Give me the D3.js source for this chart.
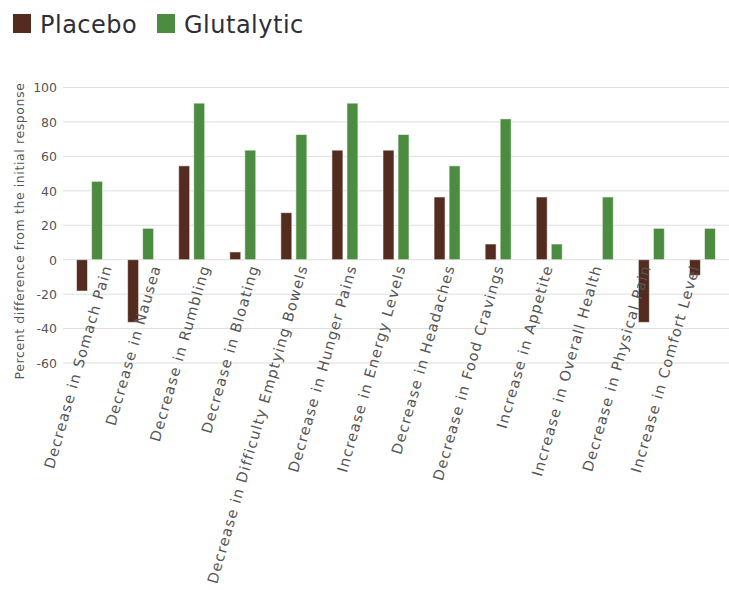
<!DOCTYPE html>
<html><head><meta charset="utf-8">
<script src="https://cdn.jsdelivr.net/npm/d3@7"></script>
<style>body{margin:0;background:#fff}svg{display:block}</style>
</head><body><svg id="c" width="729" height="590"></svg>
<script>
const categories = ["Decrease in Somach Pain","Decrease in Nausea","Decrease in Rumbling","Decrease in Bloating","Decrease in Difficulty Emptying Bowels","Decrease in Hunger Pains","Increase in Energy Levels","Decrease in Headaches","Decrease in Food Cravings","Increase in Appetite","Increase in Overall Health","Decrease in Physical Pain","Increase in Comfort Level"];
const seriesNames = ["Placebo","Glutalytic"];
const placebo = [-18.2,-36.4,54.5,4.5,27.3,63.6,63.6,36.4,9.1,36.4,0,-36.4,-9.1];
const glutalytic = [45.5,18.2,90.9,63.6,72.7,90.9,72.7,54.5,81.8,9.1,36.4,18.2,18.2];
const yTicks = [-60,-40,-20,0,20,40,60,80,100];
const colors = ["#532b1f","#4b8c40"];

const svg = d3.select("#c");
const font = "'DejaVu Sans', sans-serif";
const x0 = d3.scaleBand().domain(categories).range([64,728]).padding(0);
const x1 = d3.scaleBand().domain(seriesNames).range([0,26]).paddingInner(0.27);
const y = d3.scaleLinear().domain([-60,100]).range([363,87.5]);
// label anchors (labels in the original are spaced slightly tighter than the bars)
const xl = d3.scalePoint().domain(categories).range([112,700]);

// grid
svg.append("g").selectAll("line").data(yTicks).join("line")
  .attr("x1",63).attr("x2",729).attr("y1",d=>y(d)).attr("y2",d=>y(d))
  .attr("stroke","#dedede").attr("stroke-width",1);

// y axis ticks
const yAxis = d3.axisLeft(y).tickValues(yTicks).tickSize(0).tickPadding(0).tickFormat(d=>String(d));
const ga = svg.append("g").attr("transform","translate(57,0)").call(yAxis);
ga.select(".domain").remove();
ga.selectAll("text").attr("font-family",font).attr("font-size",12.5).attr("fill","#555").attr("dy","0.35em");

// y label
svg.append("text").attr("transform","translate(24,231) rotate(-90)")
  .attr("text-anchor","middle").attr("font-family",font).attr("font-size",12.5)
  .attr("letter-spacing","0.6").attr("fill","#555")
  .text("Percent difference from the initial response");

// bars
const data = categories.map((c,i)=>({c, vals:[placebo[i], glutalytic[i]]}));
const groups = svg.append("g").selectAll("g").data(data).join("g")
  .attr("transform",d=>`translate(${x0(d.c)+(x0.bandwidth()-26)/2},0)`);
groups.selectAll("rect").data(d=>d.vals.map((v,j)=>({v, s:seriesNames[j], j}))).join("rect")
  .attr("x",d=>x1(d.s)).attr("width",x1.bandwidth())
  .attr("y",d=>y(Math.max(0,d.v))).attr("height",d=>Math.abs(y(d.v)-y(0)))
  .attr("fill",d=>colors[d.j]).attr("stroke","rgba(255,255,255,0.55)").attr("stroke-width",1);

// category labels
svg.append("g").selectAll("text").data(categories).join("text")
  .attr("transform",d=>`translate(${xl(d)},${y(0)+7}) rotate(-74)`)
  .attr("text-anchor","end").attr("font-family",font).attr("font-size",14.5)
  .attr("letter-spacing","1.2").attr("fill","#555")
  .text(d=>d);

// legend
const lg = svg.append("g");
seriesNames.forEach((s,i)=>{
  const xo = [13,157][i];
  lg.append("rect").attr("x",xo).attr("y",14).attr("width",18).attr("height",19).attr("fill",colors[i]);
  lg.append("text").attr("x",xo+27).attr("y",33).attr("font-family",font).attr("font-size",24)
    .attr("letter-spacing","0.5").attr("fill","#2e2e38").text(s);
});
</script></body></html>
